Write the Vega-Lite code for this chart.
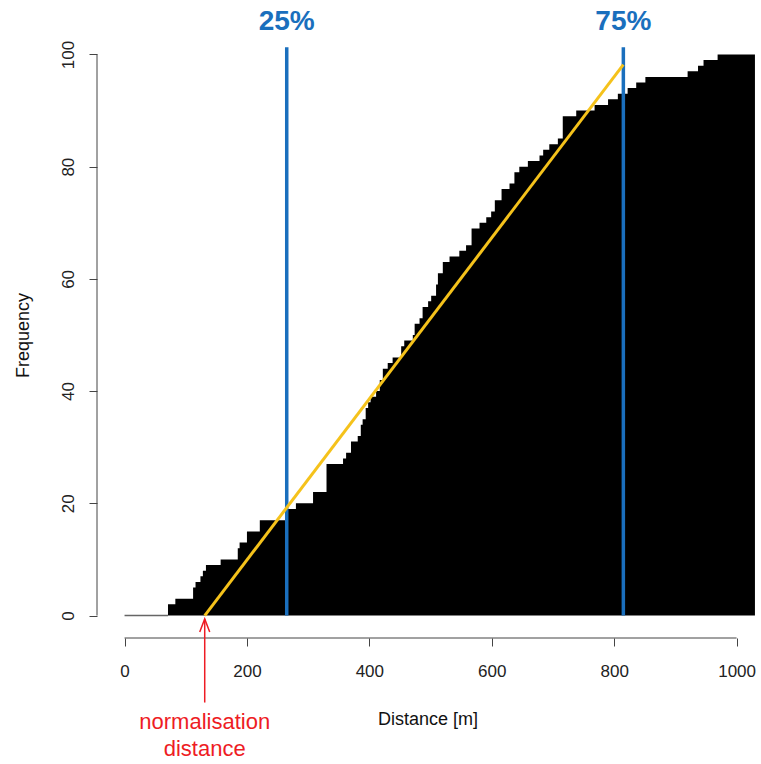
{
  "$schema": "https://vega.github.io/schema/vega-lite/v6.json",
  "width": 661,
  "height": 606,
  "autosize": {"type": "none"},
  "padding": {"left": 97, "top": 32, "right": 3, "bottom": 126},
  "background": "white",
  "config": {
    "view": {"stroke": null},
    "font": "Liberation Sans",
    "axis": {"grid": false, "domain": false, "tickColor": "#444", "tickSize": 8, "tickWidth": 1, "labelFont": "Liberation Sans", "labelFontSize": 17, "labelColor": "#222", "titleFont": "Liberation Sans", "titleFontSize": 18, "titleFontWeight": "normal", "titleColor": "#111"}
  },
  "datasets": {
    "steps": [
      {"d": 0, "f": 0}, {"d": 71, "f": 2}, {"d": 83, "f": 3}, {"d": 112, "f": 5}, {"d": 116, "f": 6},
      {"d": 124, "f": 7}, {"d": 128, "f": 8}, {"d": 133, "f": 9}, {"d": 157, "f": 10}, {"d": 185, "f": 12},
      {"d": 188, "f": 13}, {"d": 200, "f": 15}, {"d": 221, "f": 17}, {"d": 265, "f": 19}, {"d": 280, "f": 20},
      {"d": 308, "f": 22}, {"d": 330, "f": 27}, {"d": 357, "f": 28}, {"d": 362, "f": 29}, {"d": 370, "f": 31},
      {"d": 381, "f": 32}, {"d": 386, "f": 34}, {"d": 389, "f": 35}, {"d": 394, "f": 37}, {"d": 398, "f": 38},
      {"d": 402, "f": 39}, {"d": 411, "f": 40}, {"d": 417, "f": 42}, {"d": 422, "f": 44}, {"d": 430, "f": 45},
      {"d": 438, "f": 46}, {"d": 452, "f": 48}, {"d": 457, "f": 49}, {"d": 471, "f": 50}, {"d": 474, "f": 52},
      {"d": 482, "f": 53}, {"d": 487, "f": 55}, {"d": 496, "f": 56}, {"d": 501, "f": 57}, {"d": 509, "f": 59},
      {"d": 512, "f": 61}, {"d": 520, "f": 63}, {"d": 531, "f": 64}, {"d": 547, "f": 65}, {"d": 558, "f": 66},
      {"d": 567, "f": 69}, {"d": 580, "f": 70}, {"d": 591, "f": 71}, {"d": 599, "f": 72}, {"d": 605, "f": 74},
      {"d": 616, "f": 76}, {"d": 629, "f": 77}, {"d": 637, "f": 79}, {"d": 645, "f": 80}, {"d": 659, "f": 81},
      {"d": 678, "f": 82}, {"d": 684, "f": 83}, {"d": 694, "f": 84}, {"d": 708, "f": 85}, {"d": 716, "f": 89},
      {"d": 738, "f": 90}, {"d": 768, "f": 91}, {"d": 790, "f": 92}, {"d": 806, "f": 93}, {"d": 822, "f": 94},
      {"d": 836, "f": 95}, {"d": 851, "f": 96}, {"d": 920, "f": 97}, {"d": 937, "f": 98}, {"d": 946, "f": 99},
      {"d": 969, "f": 100}, {"d": 1030, "f": 100}
    ],
    "quart": [
      {"q": 265, "lab": "25%", "bot": 0, "top": 101.3, "ty": 105.8},
      {"q": 815, "lab": "75%", "bot": 0, "top": 101.3, "ty": 105.8}
    ]
  },
  "layer": [
    {
      "data": {"name": "steps"},
      "mark": {"type": "area", "interpolate": "step-after", "color": "black"},
      "encoding": {
        "x": {"field": "d", "type": "quantitative", "scale": {"domain": [-45, 1035], "nice": false, "zero": false},
              "axis": {"values": [0, 200, 400, 600, 800, 1000], "format": "d", "title": "Distance [m]", "labelPadding": 17, "titlePadding": 31}},
        "y": {"field": "f", "type": "quantitative", "scale": {"domain": [-4, 104], "nice": false, "zero": false},
              "axis": {"values": [0, 20, 40, 60, 80, 100], "format": "d", "title": "Frequency", "labelAngle": 270, "labelAlign": "center", "labelBaseline": "bottom", "labelPadding": 12, "titlePadding": 27}}
      }
    },
    {
      "data": {"values": [{"a": 0, "b": 71, "v": 0}]},
      "mark": {"type": "rule", "color": "#666", "strokeWidth": 1.5},
      "encoding": {"x": {"field": "a", "type": "quantitative"}, "x2": {"field": "b"}, "y": {"field": "v", "type": "quantitative"}}
    },
    {
      "data": {"values": [{"a": 0, "b": 1000, "v": -4}]},
      "mark": {"type": "rule", "color": "#444", "strokeWidth": 1},
      "encoding": {"x": {"field": "a", "type": "quantitative"}, "x2": {"field": "b"}, "y": {"field": "v", "type": "quantitative"}}
    },
    {
      "data": {"values": [{"a": 0, "b": 100, "v": -45}]},
      "mark": {"type": "rule", "color": "#444", "strokeWidth": 1},
      "encoding": {"y": {"field": "a", "type": "quantitative"}, "y2": {"field": "b"}, "x": {"field": "v", "type": "quantitative"}}
    },
    {
      "data": {"name": "quart"},
      "mark": {"type": "rule", "color": "#1a6fbd", "strokeWidth": 3.5},
      "encoding": {"x": {"field": "q", "type": "quantitative"}, "y": {"field": "bot", "type": "quantitative"}, "y2": {"field": "top"}}
    },
    {
      "data": {"values": [{"x1": 131, "y1": 0, "x2": 815, "y2": 98.2}]},
      "mark": {"type": "rule", "color": "#f5c21b", "strokeWidth": 3},
      "encoding": {"x": {"field": "x1", "type": "quantitative"}, "y": {"field": "y1", "type": "quantitative"}, "x2": {"field": "x2"}, "y2": {"field": "y2"}}
    },
    {
      "data": {"name": "quart"},
      "mark": {"type": "text", "color": "#1a6fbd", "fontSize": 28, "fontWeight": "bold", "font": "Liberation Sans", "baseline": "middle", "align": "center"},
      "encoding": {"x": {"field": "q", "type": "quantitative"}, "y": {"field": "ty", "type": "quantitative"}, "text": {"field": "lab"}}
    },
    {
      "data": {"values": [{"x": 131, "a": -15.5, "b": -0.6}]},
      "mark": {"type": "rule", "color": "#ee1c24", "strokeWidth": 1.5},
      "encoding": {"x": {"field": "x", "type": "quantitative"}, "y": {"field": "a", "type": "quantitative"}, "y2": {"field": "b"}}
    },
    {
      "data": {"values": [{"x": 131, "y": -0.6}]},
      "mark": {"type": "point", "shape": "M-1,2.6L0,0L1,2.6", "filled": false, "size": 100, "color": "#ee1c24", "strokeWidth": 1.5, "opacity": 1},
      "encoding": {"x": {"field": "x", "type": "quantitative"}, "y": {"field": "y", "type": "quantitative"}}
    },
    {
      "data": {"values": [{"x": 131, "y": -18.9, "t": "normalisation"}, {"x": 131, "y": -23.8, "t": "distance"}]},
      "mark": {"type": "text", "color": "#ee1c24", "fontSize": 22, "font": "Liberation Sans", "baseline": "middle", "align": "center"},
      "encoding": {"x": {"field": "x", "type": "quantitative"}, "y": {"field": "y", "type": "quantitative"}, "text": {"field": "t"}}
    }
  ]
}
